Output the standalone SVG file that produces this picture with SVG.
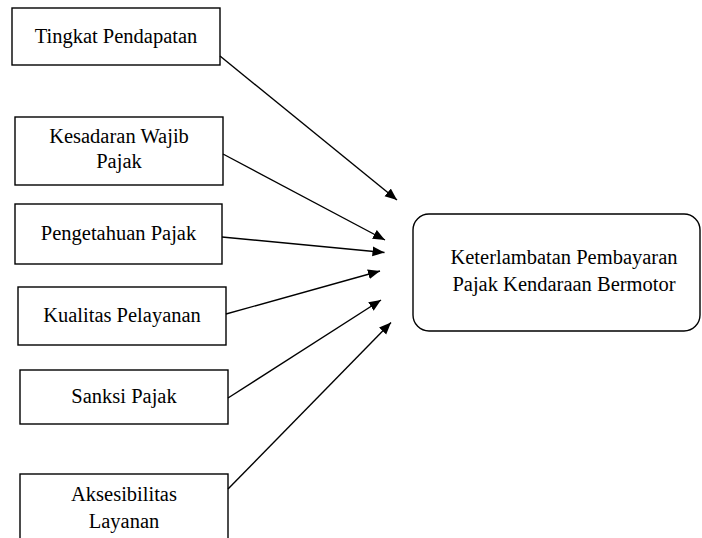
<svg xmlns="http://www.w3.org/2000/svg" width="702" height="538" viewBox="0 0 702 538">
<style>
.box{fill:#fff;stroke:#000;stroke-width:1.4}
.t{font-family:"Liberation Serif","Times New Roman",serif;font-size:20.5px;fill:#000;text-anchor:middle}
.c line{stroke:#000;stroke-width:1.4;marker-end:url(#ah)}
</style>
<defs>
<marker id="ah" markerUnits="userSpaceOnUse" markerWidth="13" markerHeight="11" refX="12" refY="5" orient="auto">
<path d="M0,0 L12,5 L0,10 z" fill="#000"/>
</marker>
</defs>
<rect width="702" height="538" fill="#fff"/>
<g id="n1"><rect class="box" x="12" y="8" width="208" height="57"/><text class="t" x="116" y="43">Tingkat Pendapatan</text></g>
<g id="n2"><rect class="box" x="15" y="117" width="208" height="68"/><text class="t" x="119" y="143">Kesadaran Wajib</text><text class="t" x="119" y="168">Pajak</text></g>
<g id="n3"><rect class="box" x="15" y="204" width="207" height="60"/><text class="t" x="118.5" y="240">Pengetahuan Pajak</text></g>
<g id="n4"><rect class="box" x="18" y="287" width="208" height="58"/><text class="t" x="122" y="322">Kualitas Pelayanan</text></g>
<g id="n5"><rect class="box" x="20" y="370" width="208" height="54"/><text class="t" x="124" y="403">Sanksi Pajak</text></g>
<g id="n6"><rect class="box" x="20" y="474" width="208" height="80"/><text class="t" x="124" y="501">Aksesibilitas</text><text class="t" x="124" y="528">Layanan</text></g>
<g id="target"><rect class="box" x="413" y="214" width="287" height="117" rx="16" ry="16"/><text class="t" x="564" y="264">Keterlambatan Pembayaran</text><text class="t" x="564" y="291">Pajak Kendaraan Bermotor</text></g>
<g class="c" id="connectors">
<line x1="220" y1="56" x2="397" y2="200"/>
<line x1="223" y1="154" x2="385" y2="240"/>
<line x1="222" y1="237" x2="384.5" y2="252.5"/>
<line x1="226" y1="314" x2="380" y2="271"/>
<line x1="228" y1="398" x2="381" y2="300"/>
<line x1="228" y1="489" x2="391" y2="322.5"/>
</g>
</svg>
